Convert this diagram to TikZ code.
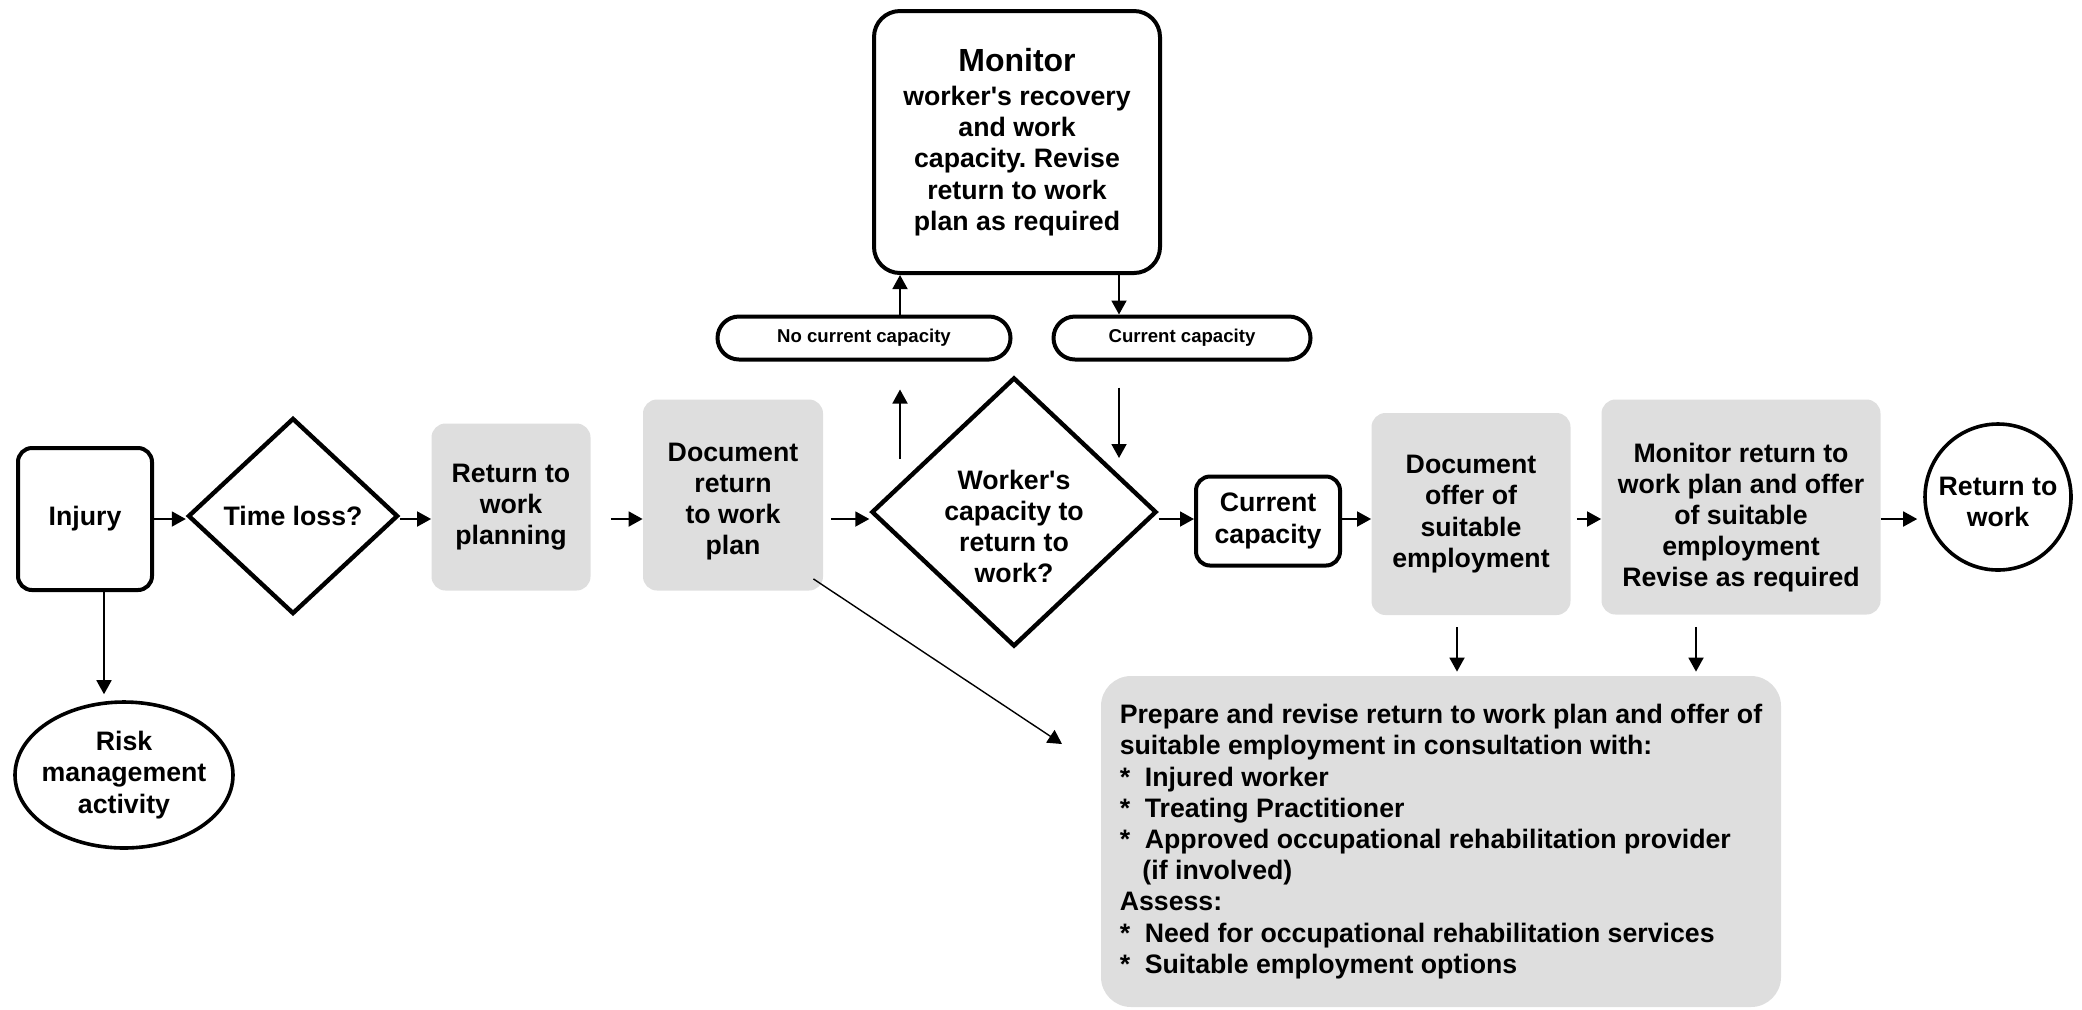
\documentclass[tikz,border=0pt]{standalone}
\usepackage{fontspec}
\setmainfont{Liberation Sans}
\usepackage{xcolor}
\usepackage{tikz}
\usetikzlibrary{shapes.geometric,arrows.meta}
\definecolor{boxgray}{RGB}{222,222,222}
\frenchspacing

\begin{document}
\begin{tikzpicture}[x=0.5pt,y=0.5pt,yscale=-1,
    txt/.style={font=\bfseries\fontsize{13.35}{15.6}\selectfont, align=center, inner sep=0pt},
    graybox/.style={txt, fill=boxgray, rounded corners=7pt},
    heavybox/.style={txt, draw, line width=2pt, rounded corners=7pt},
    decision/.style={txt, draw, diamond, line width=2.2pt},
    pill/.style={draw, line width=2pt, font=\bfseries\fontsize{9.3}{11}\selectfont, inner sep=0pt, minimum height=21.5pt, rounded corners=10.75pt},
    arr/.style={-{Triangle[length=7pt,width=7.5pt]}, line width=0.9pt},
    thinarr/.style={-{Triangle[length=7pt,width=7.5pt]}, line width=0.7pt}]
        \useasboundingbox (0,0) rectangle (2082,1009);

        \node[heavybox, minimum width=67pt, minimum height=71pt] (injury) at (85,519) {Injury};
        \node[decision, minimum width=105pt, minimum height=98pt] (timeloss) at (293,516) {Time loss?};
        \node[graybox, minimum width=79.5pt, minimum height=83.5pt] (rtwplan) at (511,507) {Return to\\work\\planning};
        \node[graybox, minimum width=90pt, minimum height=95.5pt,
            label={[txt, yshift=-3.3pt]center:Document\\return\\to work\\plan}] (docplan) at (733,495) {};
        \node[decision, minimum width=142.5pt, minimum height=134.5pt,
            label={[txt, yshift=-7.3pt]center:Worker\textquotesingle s\\capacity to\\return to\\work?}] (wcap) at (1014,512) {};
        \node[heavybox, minimum width=72pt, minimum height=44.5pt] (curcap) at (1268,521) {Current\\capacity};
        \node[graybox, minimum width=99.5pt, minimum height=101pt] (docoffer) at (1471,514) {Document\\offer of\\suitable\\employment};
        \node[graybox, minimum width=139.5pt, minimum height=107.5pt,
            label={[txt, yshift=-5.3pt]center:Monitor return to\\work plan and offer\\of suitable\\employment\\Revise as required}] (monrtw) at (1741,507) {};
        \node[draw, circle, line width=1.8pt, minimum size=73pt,
            label={[txt, yshift=-2.5pt]center:Return to\\work}] (rtw) at (1998,497) {};

        \node[txt, draw, ellipse, line width=1.8pt, minimum width=109pt, minimum height=73pt] (risk) at (124,775) {Risk\\\makebox[0pt]{management}\\activity};

        \node[txt, draw, line width=2pt, rounded corners=13pt, minimum width=143pt, minimum height=131pt] (monitor) at (1017,142)
            {{\fontsize{16}{19}\selectfont Monitor}\\[1.5pt]worker\textquotesingle s recovery\\and work\\capacity. Revise\\return to work\\plan as required};
        \node[pill, minimum width=146.5pt] (nocap) at (864,338) {No current capacity};
        \node[pill, minimum width=128.5pt] (cap) at (1182,338) {Current capacity};

        \node[graybox, align=left, rounded corners=15pt, minimum width=340pt, minimum height=165.5pt] (consult) at (1441,841.5)
            {Prepare and revise return to work plan and offer of\\
            suitable employment in consultation with:\\
            *\hspace{0.55em}Injured worker\\
            *\hspace{0.55em}Treating Practitioner\\
            *\hspace{0.55em}Approved occupational rehabilitation provider\\
            \hspace{0.85em}(if involved)\\
            Assess:\\
            *\hspace{0.55em}Need for occupational rehabilitation services\\
            *\hspace{0.55em}Suitable employment options};

        \coordinate (rowy) at (0,519);
        \coordinate (upfoot) at (900,459);
        \coordinate (downfoot) at (1119,458);
        \coordinate (diagtip) at (1062,744);

        \draw[arr] (injury.east |- rowy) -- (timeloss.west |- rowy);
        \draw[arr] (timeloss.east |- rowy) -- (rtwplan.west |- rowy);
        \draw[arr, shorten <=10pt] (rtwplan.east |- rowy) -- (docplan.west |- rowy);
        \draw[arr, shorten <=4pt] (docplan.east |- rowy) -- (wcap.west |- rowy);
        \draw[arr] (wcap.east |- rowy) -- (curcap.west |- rowy);
        \draw[arr] (curcap.east |- rowy) -- (docoffer.west |- rowy);
        \draw[arr, shorten <=3pt] (docoffer.east |- rowy) -- (monrtw.west |- rowy);
        \draw[arr, shorten >=3pt] (monrtw.east |- rowy) -- (rtw.west |- rowy);

        \draw[arr, shorten >=3pt] ([xshift=9.5pt]injury.south) -- ([xshift=9.5pt]injury.south |- risk.north);

        \draw[arr, shorten >=14pt] (upfoot) -- (upfoot |- nocap.south);
        \draw[arr] (upfoot |- nocap.north) -- (upfoot |- monitor.south);
        \draw[arr] (downfoot |- monitor.south) -- (downfoot |- cap.north);
        \draw[arr, shorten <=13pt] (downfoot |- cap.south) -- (downfoot);

        \draw[thinarr] ([xshift=-5pt,yshift=-6pt]docplan.south east) -- (diagtip);
        \draw[arr, shorten <=6pt, shorten >=2pt] ([xshift=-7pt]docoffer.south) -- ([xshift=-7pt]docoffer.south |- consult.north);
        \draw[arr, shorten <=6pt, shorten >=2pt] ([xshift=-22.5pt]monrtw.south) -- ([xshift=-22.5pt]monrtw.south |- consult.north);
\end{tikzpicture}
\end{document}
